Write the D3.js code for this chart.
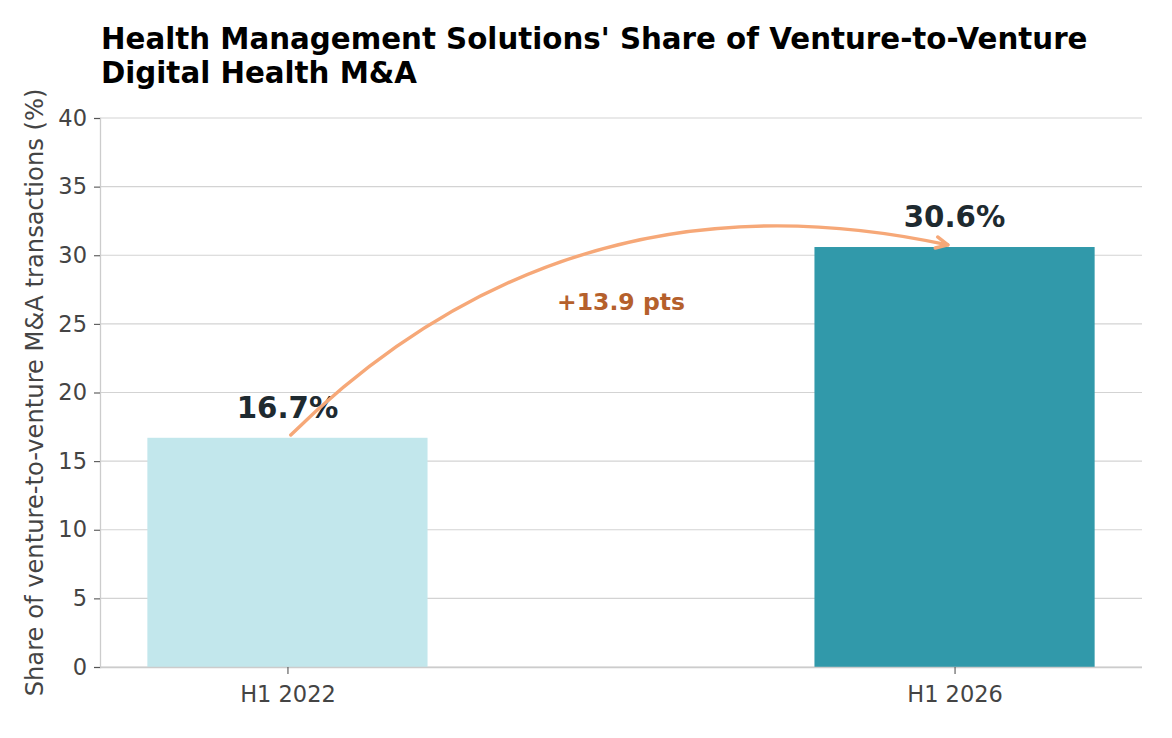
<!DOCTYPE html>
<html>
<head>
<meta charset="utf-8">
<script src="https://cdn.jsdelivr.net/npm/d3@7"></script>
<style>
  html, body { margin: 0; padding: 0; background: #fff; }
  svg { display: block; font-family: "DejaVu Sans", sans-serif; }
</style>
</head>
<body>
<svg id="chart" width="1172" height="738"></svg>
<script>
// ---- data ----
const categories = ["H1 2022", "H1 2026"];
const shares = [16.7, 30.6];
const barColors = ["#c2e7ec", "#3199aa"];
const valueLabels = ["16.7%", "30.6%"];
const yTicks = [0, 5, 10, 15, 20, 25, 30, 35, 40];
const changeLabel = "+13.9 pts";
const titleLines = ["Health Management Solutions' Share of Venture-to-Venture", "Digital Health M&A"];
const yAxisTitle = "Share of venture-to-venture M&A transactions (%)";

// ---- layout ----
const W = 1172, H = 738;
const margin = { left: 100, right: 30, top: 118, bottom: 71 };
const svg = d3.select("#chart");

const barWidth = 0.42;
const x = d3.scaleLinear()
  .domain([-0.281, 1.281])
  .range([margin.left, W - margin.right]);
const y = d3.scaleLinear()
  .domain([0, 40])
  .range([H - margin.bottom, margin.top]);

// gridlines
svg.append("g")
  .selectAll("line")
  .data(yTicks)
  .join("line")
  .attr("x1", x.range()[0]).attr("x2", x.range()[1])
  .attr("y1", d => y(d)).attr("y2", d => y(d))
  .attr("stroke", "#d3d3d3").attr("stroke-width", 1.1);

// bars
svg.append("g")
  .selectAll("rect")
  .data(shares)
  .join("rect")
  .attr("x", (d, i) => x(i - barWidth / 2))
  .attr("width", (d, i) => x(i + barWidth / 2) - x(i - barWidth / 2))
  .attr("y", d => y(d))
  .attr("height", d => y(0) - y(d))
  .attr("fill", (d, i) => barColors[i]);

// y axis
const yAxis = svg.append("g")
  .attr("transform", `translate(${margin.left},0)`)
  .call(d3.axisLeft(y).tickValues(yTicks).tickSize(6).tickPadding(7).tickFormat(d3.format("d")));
yAxis.select(".domain").attr("stroke", "#cccccc").attr("stroke-width", 1.3);
yAxis.selectAll(".tick line").attr("stroke", "#555").attr("stroke-width", 1.1);
yAxis.selectAll(".tick text")
  .attr("fill", "#444").attr("font-size", 22.5).attr("font-family", "DejaVu Sans");

// x axis
const xAxis = svg.append("g")
  .attr("transform", `translate(0,${y(0)})`)
  .call(d3.axisBottom(x).tickValues([0, 1]).tickSize(7).tickPadding(12)
    .tickFormat((d) => categories[d]));
xAxis.select(".domain").attr("stroke", "#cccccc").attr("stroke-width", 1.3)
  .attr("d", `M${x.range()[0]},0.5H${x.range()[1]}`);
xAxis.selectAll(".tick line").attr("stroke", "#555").attr("stroke-width", 1.1);
xAxis.selectAll(".tick text")
  .attr("fill", "#444").attr("font-size", 22.5).attr("font-family", "DejaVu Sans");

// value labels
svg.append("g")
  .selectAll("text")
  .data(shares)
  .join("text")
  .attr("x", (d, i) => x(i))
  .attr("y", d => y(d) - 20)
  .attr("text-anchor", "middle")
  .attr("font-size", 29.3)
  .attr("font-weight", "bold")
  .attr("fill", "#1e2a30")
  .text((d, i) => valueLabels[i]);

// change label
svg.append("text")
  .attr("x", x(0.5))
  .attr("y", y(26) + 0)
  .attr("text-anchor", "middle")
  .attr("font-size", 23.5)
  .attr("font-weight", "bold")
  .attr("fill", "#b5602c")
  .text(changeLabel);

// curved arrow (quadratic, like arc3 rad 0.27)
const p0 = [x(0.005), y(16.9)];
const p2 = [x(0.99), y(30.75)];
const rad = 0.27;
const mx = (p0[0] + p2[0]) / 2, my = (p0[1] + p2[1]) / 2;
const dx = p2[0] - p0[0], dy = p2[1] - p0[1];
const c = [mx + rad * dy, my - rad * dx];
const arrowColor = "#f6a878";
const path = d3.path();
path.moveTo(p0[0], p0[1]);
path.quadraticCurveTo(c[0], c[1], p2[0], p2[1]);
svg.append("path")
  .attr("d", path.toString())
  .attr("fill", "none")
  .attr("stroke", arrowColor)
  .attr("stroke-width", 3.4)
  .attr("stroke-linecap", "round");
// arrow head
const ang = Math.atan2(p2[1] - c[1], p2[0] - c[0]);
const hl = 13, ha = 0.45;
const head = d3.path();
head.moveTo(p2[0] - hl * Math.cos(ang - ha), p2[1] - hl * Math.sin(ang - ha));
head.lineTo(p2[0], p2[1]);
head.lineTo(p2[0] - hl * Math.cos(ang + ha), p2[1] - hl * Math.sin(ang + ha));
svg.append("path")
  .attr("d", head.toString())
  .attr("fill", "none")
  .attr("stroke", arrowColor)
  .attr("stroke-width", 3.4)
  .attr("stroke-linecap", "round")
  .attr("stroke-linejoin", "round");

// title
svg.append("text")
  .attr("x", 101)
  .attr("font-size", 29.3)
  .attr("font-weight", "bold")
  .attr("fill", "#000")
  .selectAll("tspan")
  .data(titleLines)
  .join("tspan")
  .attr("x", 101)
  .attr("y", (d, i) => 49 + i * 34)
  .text(d => d);

// y axis title
svg.append("text")
  .attr("transform", `translate(43,${(y(0) + y(40)) / 2}) rotate(-90)`)
  .attr("text-anchor", "middle")
  .attr("font-size", 24.2)
  .attr("fill", "#444")
  .text(yAxisTitle);
</script>
</body>
</html>
